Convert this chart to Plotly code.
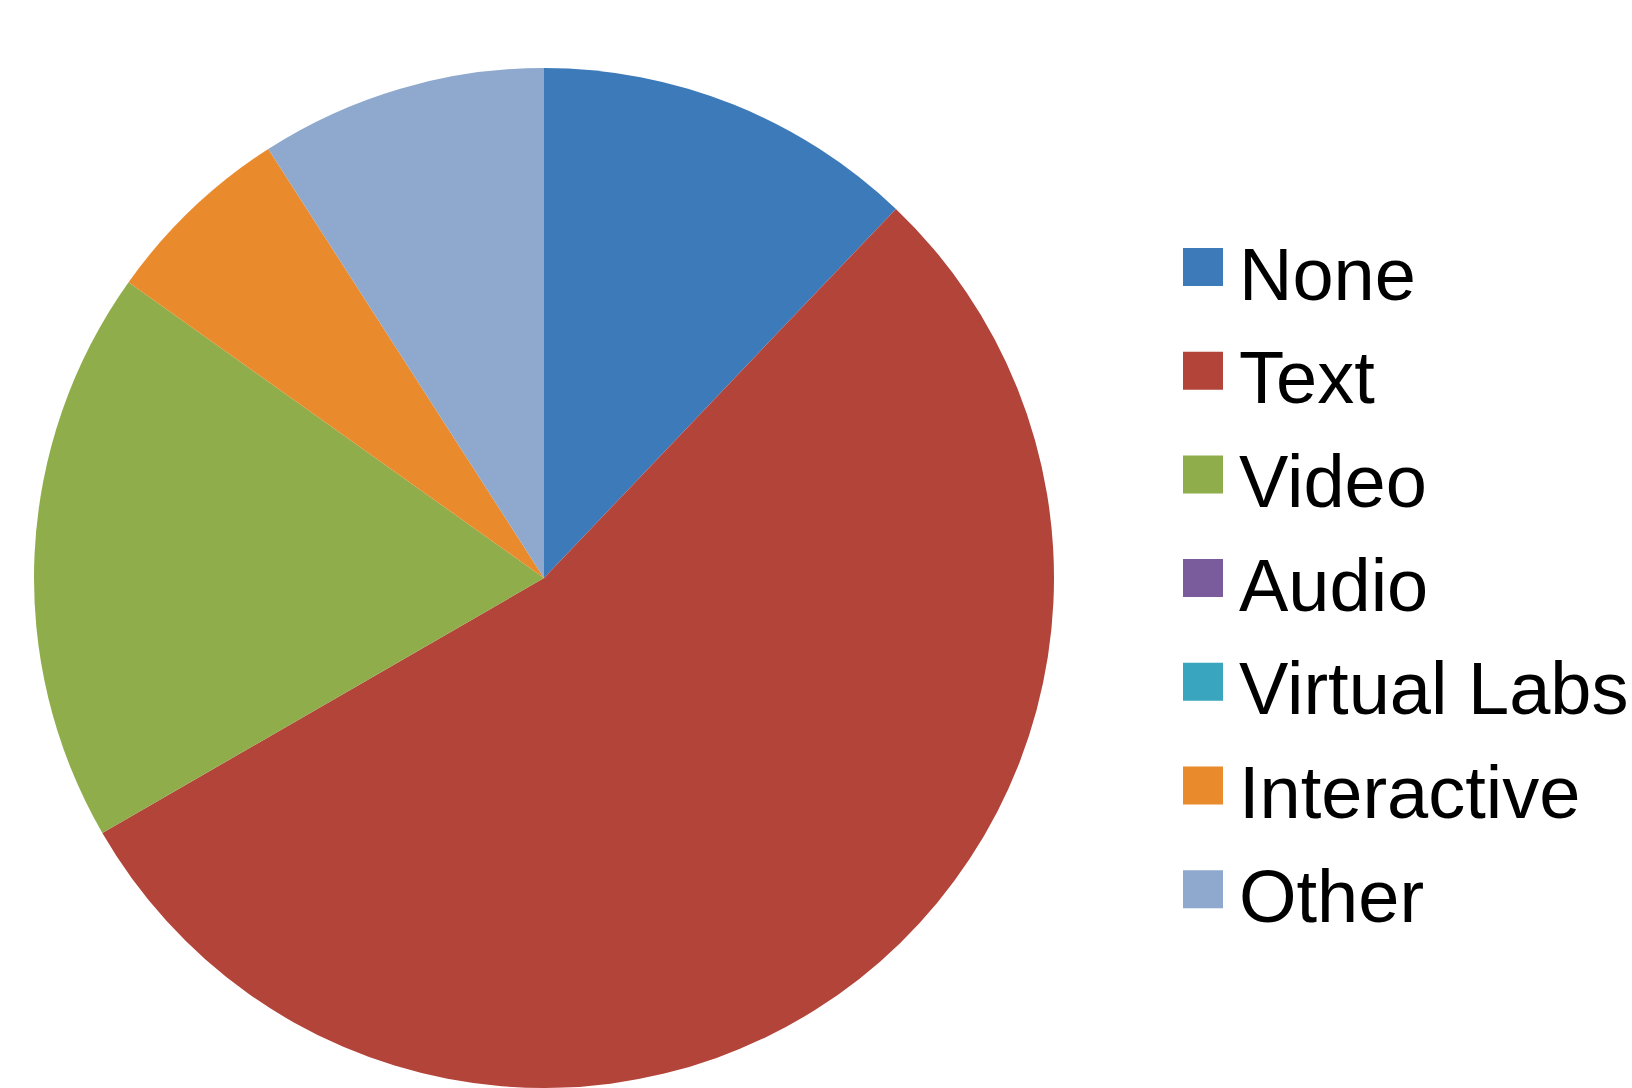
import plotly.graph_objects as go

categories = ["None", "Text", "Video", "Audio", "Virtual Labs", "Interactive", "Other"]
counts = [4, 18, 6, 0, 0, 2, 3]
colors = ["#3d7aba", "#b3443a", "#8fad4b", "#7a5c9c", "#3aa5be", "#e98a2c", "#8ea9cd"]

W, H = 1632, 1088
cx, cy, r = 544, 578, 510

fig = go.Figure(go.Pie(
    labels=categories,
    values=counts,
    sort=False,
    direction="clockwise",
    rotation=0,
    marker=dict(colors=colors, line=dict(width=0)),
    textinfo="none",
    hoverinfo="label+value+percent",
    showlegend=False,
    domain=dict(x=[(cx - r) / W, (cx + r) / W], y=[(H - cy - r) / H, (H - cy + r) / H]),
))

# legend drawn from the category list
sq_x0, sq_x1, sq = 1183, 1223, 38
text_x = 1237
first_mid = 274
step = 103.7
shapes, annotations = [], []
for i, (lab, col) in enumerate(zip(categories, colors)):
    ymid = first_mid + i * step
    shapes.append(dict(type="rect", xref="paper", yref="paper",
                       x0=sq_x0 / W, x1=sq_x1 / W,
                       y0=(H - (ymid - 7 + sq / 2)) / H, y1=(H - (ymid - 7 - sq / 2)) / H,
                       fillcolor=col, line=dict(width=0)))
    annotations.append(dict(text=lab, xref="paper", yref="paper",
                            x=text_x / W, y=(H - ymid) / H,
                            xanchor="left", yanchor="middle", showarrow=False,
                            font=dict(family="Liberation Sans, Arial, sans-serif", size=74, color="#000000")))

fig.update_layout(
    width=W, height=H,
    margin=dict(l=0, r=0, t=0, b=0),
    paper_bgcolor="white", plot_bgcolor="white",
    shapes=shapes, annotations=annotations,
)

fig.write_html("out.html")
